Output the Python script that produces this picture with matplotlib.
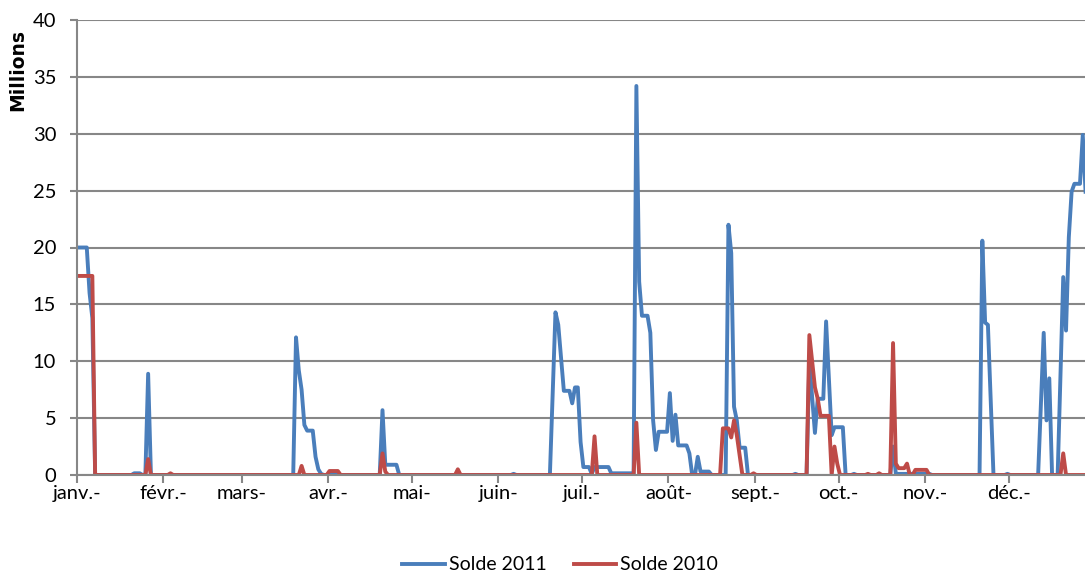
import matplotlib.pyplot as plt

# jours comptés depuis le 1er janvier, soldes en millions
mois = ['janv.-', 'févr.-', 'mars-', 'avr.-', 'mai-', 'juin-',
        'juil.-', 'août-', 'sept.-', 'oct.-', 'nov.-', 'déc.-']
debut_mois = [0, 31, 59, 90, 120, 151, 181, 212, 243, 273, 304, 334]

jours_2011 = [0, 3, 4, 5, 6,
              19, 20, 22, 23,
              24, 25, 26,
              77, 78, 79, 80, 81, 82, 84, 85, 86, 87, 88,
              89, 90, 93, 94,
              108, 109, 110, 114, 115,
              155, 156, 157,
              169, 171, 172, 174, 176, 177, 178, 179, 180, 181, 183, 184, 185, 190, 191, 198, 199,
              200, 201, 202, 204, 205, 206, 207, 208, 211, 212, 213, 214, 215, 218, 219, 220,
              221, 222, 223, 226, 227,
              232, 233, 234, 235, 236, 237, 239, 240,
              256, 257, 258,
              261, 262, 264, 265, 267, 268, 270, 271, 274, 275,
              277, 278, 279,
              291, 292, 293, 305, 306,
              323, 324, 325, 326, 328,
              332, 333, 334,
              344, 346, 347, 348, 349, 351, 353, 354, 355, 356, 357, 359, 360, 361]
solde_2011 = [20.0, 20.0, 16.0, 13.8, 0,
              0, 0.15, 0.15, 0,
              0, 8.9, 0,
              0, 12.1, 9.2, 7.5, 4.4, 3.9, 3.9, 1.6, 0.5, 0.1, 0,
              0, 0.15, 0.15, 0,
              0, 5.7, 0.9, 0.9, 0,
              0, 0.1, 0,
              0, 14.3, 13.2, 7.4, 7.4, 6.3, 7.7, 7.7, 2.9, 0.7, 0.7, 0.1, 0.7, 0.7, 0.15, 0.15, 0,
              34.2, 17.0, 14.0, 14.0, 12.5, 4.8, 2.2, 3.8, 3.8, 7.2, 3.0, 5.3, 2.6, 2.6, 1.9, 0,
              0, 1.6, 0.3, 0.3, 0,
              0, 22.0, 19.5, 6.0, 4.8, 2.4, 2.4, 0,
              0, 0.1, 0,
              0, 10.0, 3.7, 6.7, 6.7, 13.5, 3.5, 4.2, 4.2, 0,
              0, 0.1, 0,
              0, 2.5, 0.1, 0.1, 0,
              0, 20.6, 13.4, 13.2, 0,
              0, 0.1, 0,
              0, 12.5, 4.8, 8.5, 0, 0, 17.4, 12.7, 20.9, 24.9, 25.6, 25.6, 29.9, 24.9]

jours_2010 = [0, 5, 6,
              24, 25, 26,
              32, 33, 34,
              79, 80, 81,
              89, 90, 93, 94,
              108, 109, 110, 111,
              135, 136, 137,
              184, 185, 186,
              199, 200, 201,
              230, 231, 233, 234, 235, 236, 238,
              241, 242, 243,
              261, 262, 264, 265, 266, 269, 270, 271, 272, 273,
              282, 283, 284, 286, 287, 288,
              291, 292, 293, 294, 296, 297, 298, 299, 300, 304, 305,
              352, 353, 354, 361]
solde_2010 = [17.5, 17.5, 0,
              0, 1.4, 0,
              0, 0.15, 0,
              0, 0.8, 0,
              0, 0.35, 0.35, 0,
              0, 1.9, 0.3, 0,
              0, 0.5, 0,
              0, 3.4, 0,
              0, 4.6, 0,
              0, 4.1, 4.1, 3.3, 4.8, 3.5, 0,
              0, 0.15, 0,
              0, 12.3, 7.7, 6.7, 5.2, 5.2, 0, 2.5, 1.0, 0,
              0, 0.1, 0, 0, 0.15, 0,
              0, 11.6, 1.0, 0.6, 0.6, 1.0, 0, 0, 0.45, 0.45, 0,
              0, 1.9, 0, 0]

bleu = '#4A7EBB'
rouge = '#BE4B48'
gris = '#878787'

plt.rcParams['font.family'] = ['Lato', 'DejaVu Sans']

fig = plt.figure(figsize=(10.85, 5.76), dpi=100)
ax = fig.add_axes([77 / 1085, 101 / 576, 1008 / 1085, 455 / 576])

# chaque journée est centrée entre deux graduations
ax.plot([j + 0.5 for j in jours_2011], solde_2011, color=bleu, lw=2.8, label='Solde 2011')
ax.plot([j + 0.5 for j in jours_2010], solde_2010, color=rouge, lw=2.8, label='Solde 2010')

ax.set_xlim(0, 361.3)
ax.set_ylim(0, 40)
ax.set_yticks(range(0, 41, 5))
ax.set_xticks(debut_mois)
ax.set_xticklabels(mois)
ax.grid(axis='y', color=gris, lw=1.5)
ax.set_axisbelow(True)

for s in ['top', 'right']:
    ax.spines[s].set_visible(False)
for s in ['left', 'bottom']:
    ax.spines[s].set_color(gris)
    ax.spines[s].set_linewidth(1.5)

ax.tick_params(axis='y', colors=gris, length=5, width=1.5, pad=10, labelsize=14.5,
               labelcolor='black')
ax.tick_params(axis='x', colors=gris, length=6, width=1.5, pad=1, labelsize=14.5,
               labelcolor='black')

fig.text(18 / 1085, 1 - 70 / 576, 'Millions', rotation=90, ha='center', va='center',
         fontsize=13.5, fontweight='bold', family='DejaVu Sans')

fig.legend(loc='center', bbox_to_anchor=(560 / 1085, 11 / 576), ncol=2, frameon=False,
           fontsize=14, handlelength=2.2, handletextpad=0.2, columnspacing=1.4)

fig.savefig('out.png', dpi=100)
